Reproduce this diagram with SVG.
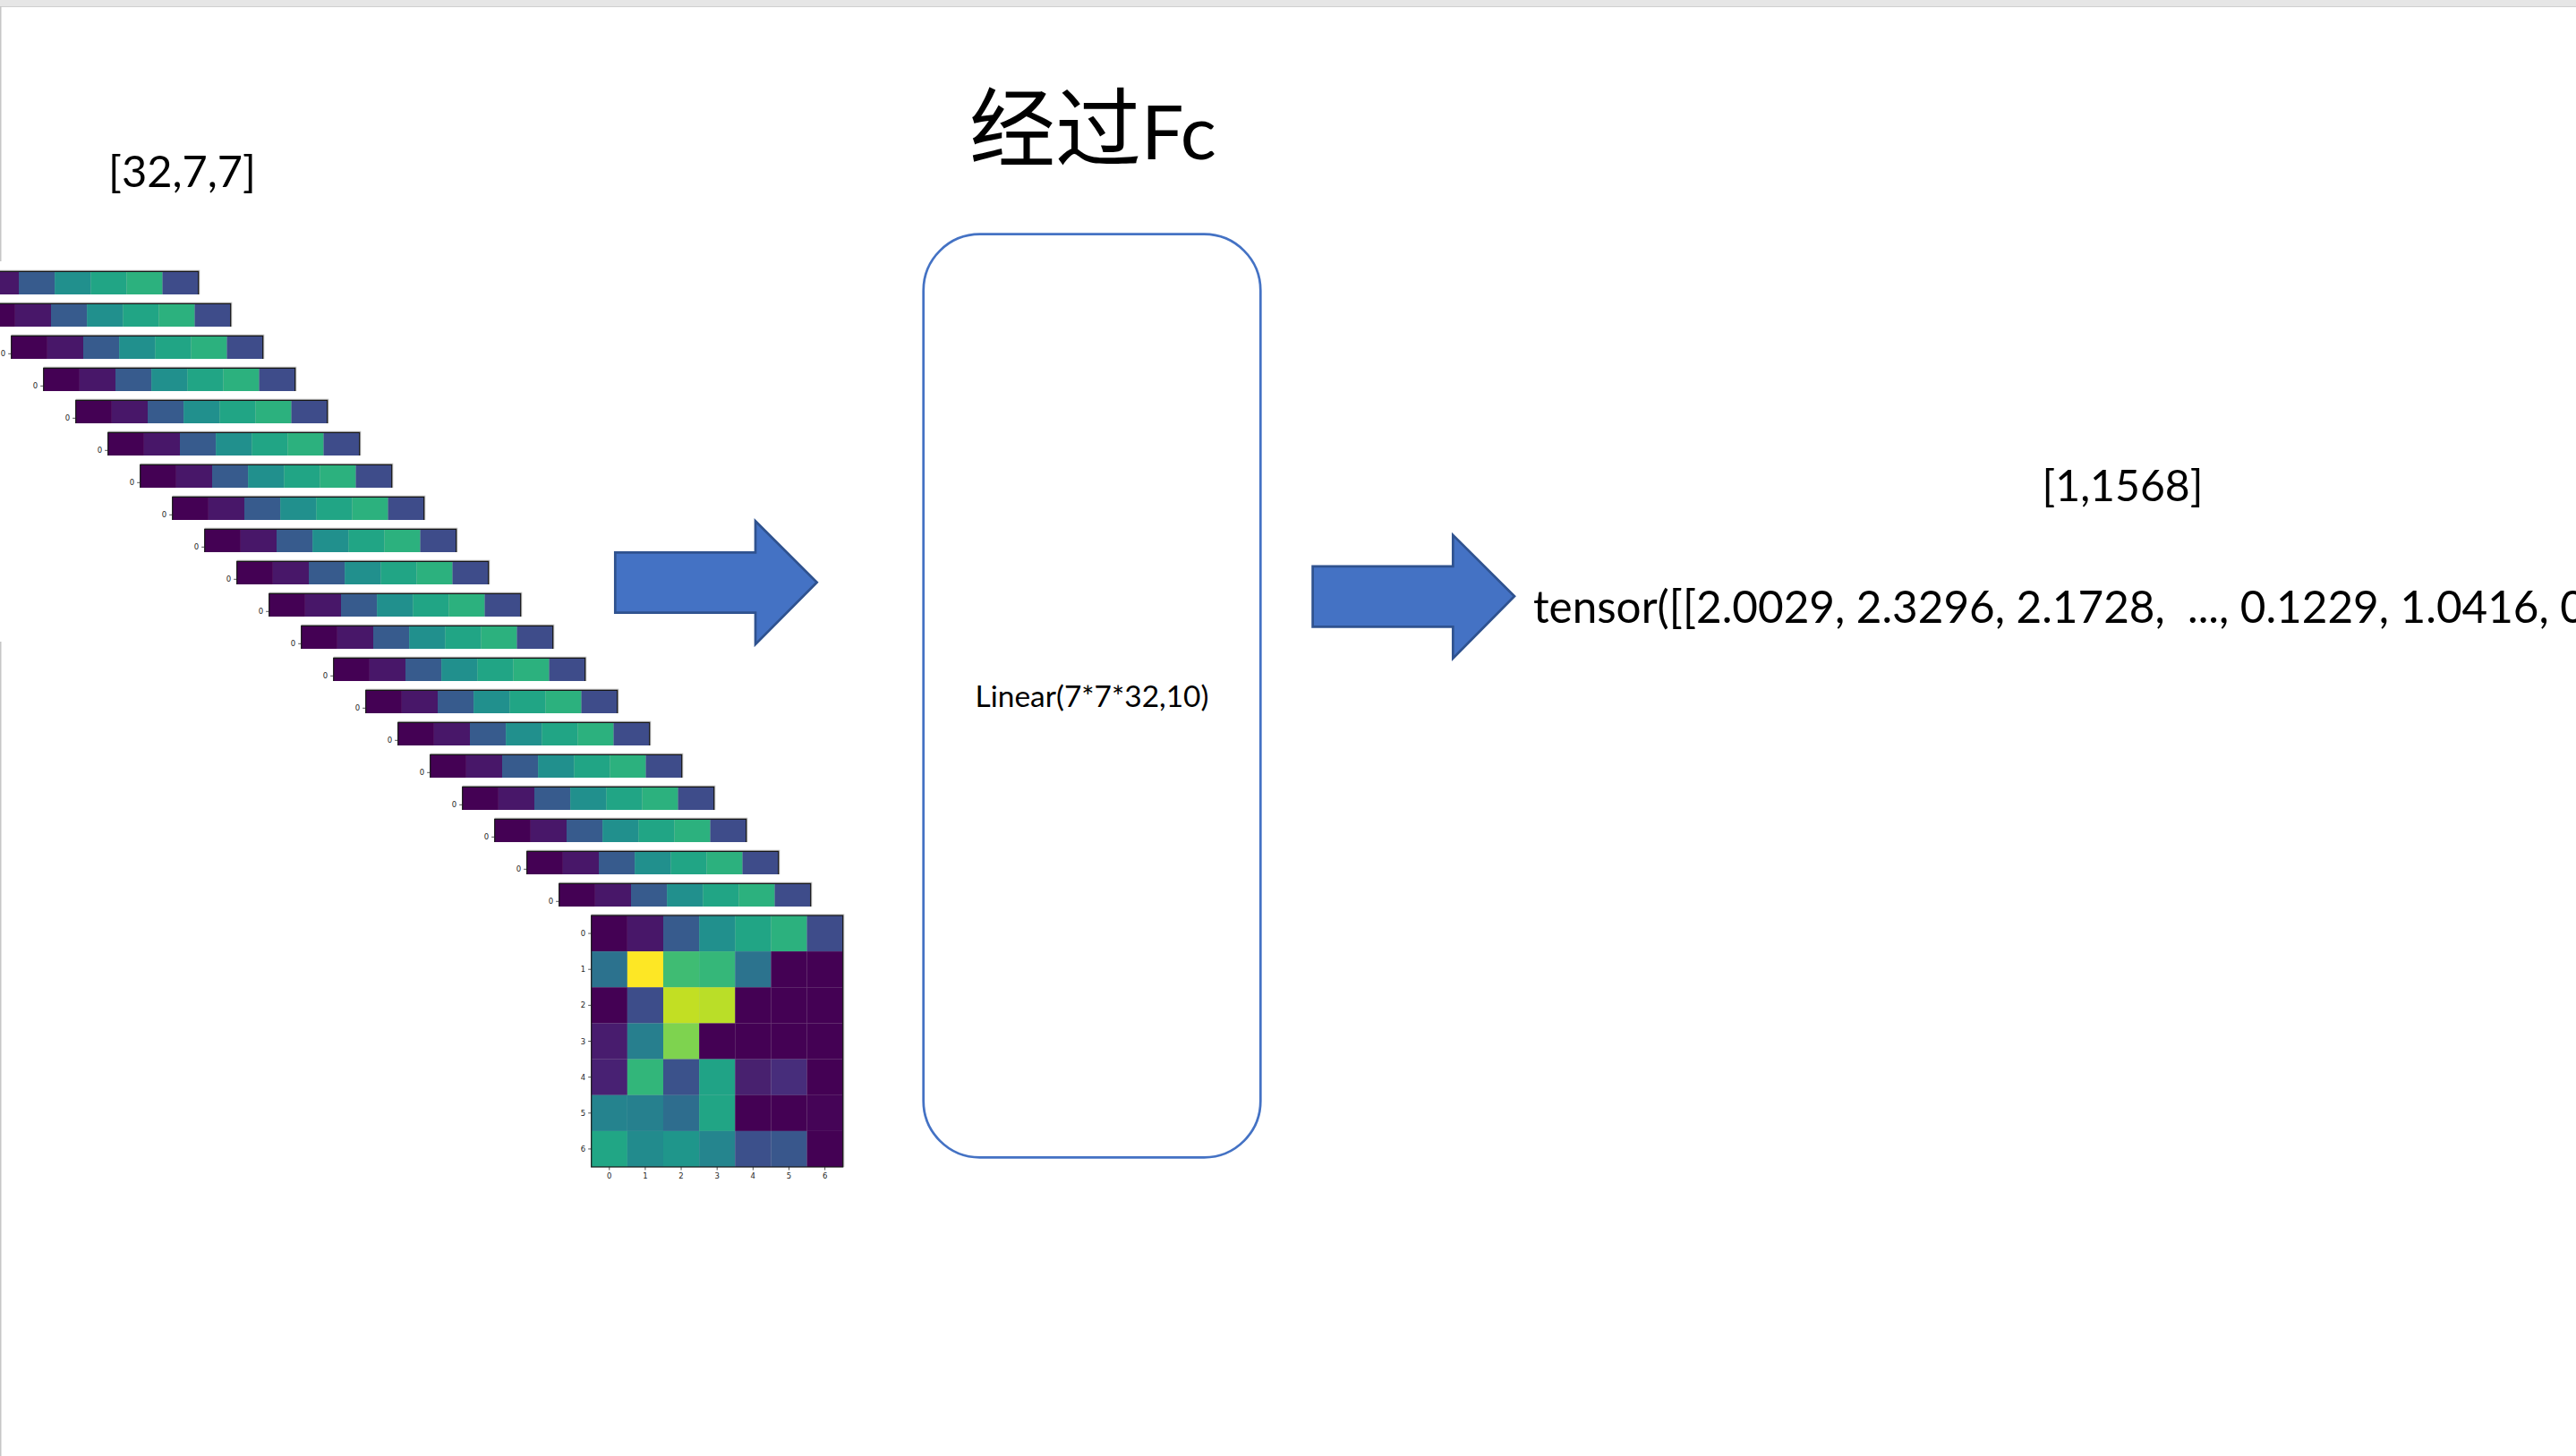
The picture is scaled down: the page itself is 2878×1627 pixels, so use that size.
<svg xmlns="http://www.w3.org/2000/svg" xmlns:xlink="http://www.w3.org/1999/xlink" width="2878" height="1627" viewBox="0 0 2878 1627">
<style>
.lbl{font-family:Lato,"Open Sans","Liberation Sans",sans-serif;fill:#000}
.tick{font-family:"DejaVu Sans",sans-serif;font-size:8.5px;fill:#262626}
.tk{stroke:#262626;stroke-width:0.8}
.spine{fill:none;stroke:#161616;stroke-width:1.2}
.arrow{fill:#4472c4;stroke:#2f528f;stroke-width:2.7;stroke-linejoin:miter}
.box{fill:none;stroke:#4472c4;stroke-width:2.7}
</style>
<defs>
<g id="strip">
<rect x="0" y="-1.6" width="282.6" height="27.3" fill="#c4c4c4"/>
<rect x="0" y="0" width="40.2" height="25.7" fill="#440154"/>
<rect x="40.14" y="0" width="40.2" height="25.7" fill="#481769"/>
<rect x="80.29" y="0" width="40.2" height="25.7" fill="#375b8d"/>
<rect x="120.43" y="0" width="40.2" height="25.7" fill="#21908d"/>
<rect x="160.57" y="0" width="40.2" height="25.7" fill="#21a585"/>
<rect x="200.71" y="0" width="40.2" height="25.7" fill="#2cb17e"/>
<rect x="240.86" y="0" width="40.14" height="25.7" fill="#3e4c8a"/>
<path class="spine" d="M0,25.7V0H281V25.7"/>
<line class="tk" x1="-3.5" y1="20" x2="0" y2="20"/>
<text class="tick" x="-6.5" y="23" text-anchor="end">0</text>
</g>
</defs>
<rect width="2878" height="1627" fill="#ffffff"/>
<rect x="0" y="0" width="2878" height="7" fill="#e6e6e6"/>
<line x1="0" y1="7.5" x2="2878" y2="7.5" stroke="#cfcfcf" stroke-width="1"/>
<line x1="0.7" y1="7" x2="0.7" y2="292" stroke="#c6c6c6" stroke-width="1.6"/>
<line x1="0.7" y1="717" x2="0.7" y2="1627" stroke="#c6c6c6" stroke-width="1.6"/>

<g id="feature-maps">
<use xlink:href="#strip" x="-59.3" y="303.3"/>
<use xlink:href="#strip" x="-23.3" y="339.3"/>
<use xlink:href="#strip" x="12.7" y="375.3"/>
<use xlink:href="#strip" x="48.7" y="411.3"/>
<use xlink:href="#strip" x="84.7" y="447.3"/>
<use xlink:href="#strip" x="120.7" y="483.3"/>
<use xlink:href="#strip" x="156.7" y="519.3"/>
<use xlink:href="#strip" x="192.7" y="555.3"/>
<use xlink:href="#strip" x="228.7" y="591.3"/>
<use xlink:href="#strip" x="264.7" y="627.3"/>
<use xlink:href="#strip" x="300.7" y="663.3"/>
<use xlink:href="#strip" x="336.7" y="699.3"/>
<use xlink:href="#strip" x="372.7" y="735.3"/>
<use xlink:href="#strip" x="408.7" y="771.3"/>
<use xlink:href="#strip" x="444.7" y="807.3"/>
<use xlink:href="#strip" x="480.7" y="843.3"/>
<use xlink:href="#strip" x="516.7" y="879.3"/>
<use xlink:href="#strip" x="552.7" y="915.3"/>
<use xlink:href="#strip" x="588.7" y="951.3"/>
<use xlink:href="#strip" x="624.7" y="987.3"/>
<g id="matrix" transform="translate(660.7,1023)">
<rect x="0" y="-1.6" width="282.6" height="282.6" fill="#c4c4c4"/>
<g>
<rect x="0" y="0" width="40.2" height="40.2" fill="#440154"/>
<rect x="40.14" y="0" width="40.2" height="40.2" fill="#481769"/>
<rect x="80.29" y="0" width="40.2" height="40.2" fill="#375b8d"/>
<rect x="120.43" y="0" width="40.2" height="40.2" fill="#21908d"/>
<rect x="160.57" y="0" width="40.2" height="40.2" fill="#21a585"/>
<rect x="200.71" y="0" width="40.2" height="40.2" fill="#2cb17e"/>
<rect x="240.86" y="0" width="40.14" height="40.2" fill="#3e4c8a"/>
</g>
<g>
<rect x="0" y="40.14" width="40.2" height="40.2" fill="#2c728e"/>
<rect x="40.14" y="40.14" width="40.2" height="40.2" fill="#fde725"/>
<rect x="80.29" y="40.14" width="40.2" height="40.2" fill="#3fbc73"/>
<rect x="120.43" y="40.14" width="40.2" height="40.2" fill="#35b779"/>
<rect x="160.57" y="40.14" width="40.2" height="40.2" fill="#2c738e"/>
<rect x="200.71" y="40.14" width="40.2" height="40.2" fill="#440154"/>
<rect x="240.86" y="40.14" width="40.14" height="40.2" fill="#440154"/>
</g>
<g>
<rect x="0" y="80.29" width="40.2" height="40.2" fill="#440154"/>
<rect x="40.14" y="80.29" width="40.2" height="40.2" fill="#3d4d8a"/>
<rect x="80.29" y="80.29" width="40.2" height="40.2" fill="#c2df23"/>
<rect x="120.43" y="80.29" width="40.2" height="40.2" fill="#bade28"/>
<rect x="160.57" y="80.29" width="40.2" height="40.2" fill="#440154"/>
<rect x="200.71" y="80.29" width="40.2" height="40.2" fill="#440154"/>
<rect x="240.86" y="80.29" width="40.14" height="40.2" fill="#440154"/>
</g>
<g>
<rect x="0" y="120.43" width="40.2" height="40.2" fill="#481c6e"/>
<rect x="40.14" y="120.43" width="40.2" height="40.2" fill="#277f8e"/>
<rect x="80.29" y="120.43" width="40.2" height="40.2" fill="#7ed34f"/>
<rect x="120.43" y="120.43" width="40.2" height="40.2" fill="#440154"/>
<rect x="160.57" y="120.43" width="40.2" height="40.2" fill="#440154"/>
<rect x="200.71" y="120.43" width="40.2" height="40.2" fill="#440154"/>
<rect x="240.86" y="120.43" width="40.14" height="40.2" fill="#440154"/>
</g>
<g>
<rect x="0" y="160.57" width="40.2" height="40.2" fill="#482173"/>
<rect x="40.14" y="160.57" width="40.2" height="40.2" fill="#32b67a"/>
<rect x="80.29" y="160.57" width="40.2" height="40.2" fill="#3b528b"/>
<rect x="120.43" y="160.57" width="40.2" height="40.2" fill="#20a386"/>
<rect x="160.57" y="160.57" width="40.2" height="40.2" fill="#48216f"/>
<rect x="200.71" y="160.57" width="40.2" height="40.2" fill="#472d7b"/>
<rect x="240.86" y="160.57" width="40.14" height="40.2" fill="#440154"/>
</g>
<g>
<rect x="0" y="200.71" width="40.2" height="40.2" fill="#25838e"/>
<rect x="40.14" y="200.71" width="40.2" height="40.2" fill="#26808e"/>
<rect x="80.29" y="200.71" width="40.2" height="40.2" fill="#2e6d8e"/>
<rect x="120.43" y="200.71" width="40.2" height="40.2" fill="#21a585"/>
<rect x="160.57" y="200.71" width="40.2" height="40.2" fill="#440154"/>
<rect x="200.71" y="200.71" width="40.2" height="40.2" fill="#440154"/>
<rect x="240.86" y="200.71" width="40.14" height="40.2" fill="#450457"/>
</g>
<g>
<rect x="0" y="240.86" width="40.2" height="40.14" fill="#21a685"/>
<rect x="40.14" y="240.86" width="40.2" height="40.14" fill="#228b8d"/>
<rect x="80.29" y="240.86" width="40.2" height="40.14" fill="#1f968b"/>
<rect x="120.43" y="240.86" width="40.2" height="40.14" fill="#25858e"/>
<rect x="160.57" y="240.86" width="40.2" height="40.14" fill="#3c508b"/>
<rect x="200.71" y="240.86" width="40.2" height="40.14" fill="#39578c"/>
<rect x="240.86" y="240.86" width="40.14" height="40.14" fill="#440154"/>
</g>
<rect class="spine" x="0" y="0" width="281" height="281"/>
<g class="tk">
<line x1="-3.5" y1="20.07" x2="0" y2="20.07"/><line x1="-3.5" y1="60.21" x2="0" y2="60.21"/><line x1="-3.5" y1="100.36" x2="0" y2="100.36"/><line x1="-3.5" y1="140.5" x2="0" y2="140.5"/><line x1="-3.5" y1="180.64" x2="0" y2="180.64"/><line x1="-3.5" y1="220.79" x2="0" y2="220.79"/><line x1="-3.5" y1="260.93" x2="0" y2="260.93"/>
<line x1="20.07" y1="281" x2="20.07" y2="284.5"/><line x1="60.21" y1="281" x2="60.21" y2="284.5"/><line x1="100.36" y1="281" x2="100.36" y2="284.5"/><line x1="140.5" y1="281" x2="140.5" y2="284.5"/><line x1="180.64" y1="281" x2="180.64" y2="284.5"/><line x1="220.79" y1="281" x2="220.79" y2="284.5"/><line x1="260.93" y1="281" x2="260.93" y2="284.5"/>
</g>
<g class="tick" text-anchor="end">
<text x="-6.5" y="23.1">0</text><text x="-6.5" y="63.2">1</text><text x="-6.5" y="103.4">2</text><text x="-6.5" y="143.5">3</text><text x="-6.5" y="183.6">4</text><text x="-6.5" y="223.8">5</text><text x="-6.5" y="263.9">6</text>
</g>
<g class="tick" text-anchor="middle">
<text x="20.07" y="293.5">0</text><text x="60.21" y="293.5">1</text><text x="100.36" y="293.5">2</text><text x="140.5" y="293.5">3</text><text x="180.64" y="293.5">4</text><text x="220.79" y="293.5">5</text><text x="260.93" y="293.5">6</text>
</g>
</g>
</g>

<g id="label-input">
<text class="lbl" x="121" y="209" font-size="49" textLength="165" lengthAdjust="spacingAndGlyphs">[32,7,7]</text>
</g>

<g id="title">
<text x="1083" y="178" font-size="96" fill="#000"><tspan font-family="'Noto Sans CJK SC',sans-serif">经过</tspan><tspan font-family="Lato,'Open Sans',sans-serif" font-size="84">Fc</tspan></text>
</g>

<g id="fc-layer">
<rect class="box" x="1031.7" y="261.7" width="376.6" height="1031.6" rx="63" ry="63"/>
<text class="lbl" x="1220" y="790" font-size="32.5" text-anchor="middle" textLength="261" lengthAdjust="spacingAndGlyphs">Linear(7*7*32,10)</text>
</g>

<g id="label-output">
<text class="lbl" x="2371.5" y="560" font-size="49" text-anchor="middle" textLength="180" lengthAdjust="spacingAndGlyphs">[1,1568]</text>
</g>

<g id="output-tensor">
<text class="lbl" x="1713" y="696" font-size="50" textLength="1176" lengthAdjust="spacingAndGlyphs" xml:space="preserve">tensor([[2.0029, 2.3296, 2.1728,  ..., 0.1229, 1.0416, 0</text>
</g>

<g id="connectors">
<path class="arrow" d="M687.3,617.3H844V582.3L912.7,650.7L844,720V684.7H687.3Z"/>
<path class="arrow" d="M1466.6,632.9H1623.3V597.9L1692,666.3L1623.3,735.6V700.3H1466.6Z"/>
</g>
</svg>
